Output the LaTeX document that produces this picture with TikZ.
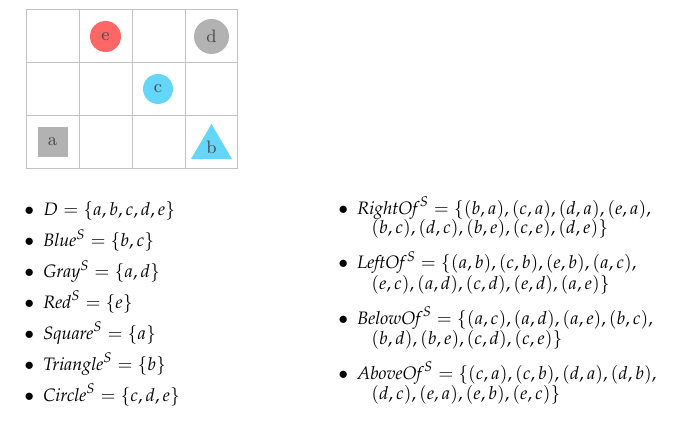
\documentclass[tikz,border=0pt]{standalone}
\usepackage{amsmath}
\usepackage{mathpazo}
\usetikzlibrary{positioning}
\definecolor{tilered}{RGB}{255,102,102}
\definecolor{tileblue}{RGB}{99,214,250}
\definecolor{tilegray}{RGB}{178,178,178}
\definecolor{gridgray}{RGB}{195,195,195}
\definecolor{lettergray}{RGB}{75,75,75}

\begin{document}
\begin{tikzpicture}[x=0.5pt,y=-0.5pt,font=\fontsize{9}{11}\selectfont,
  tile/.style={inner sep=0pt,text=lettergray},
  line/.style={anchor=base west,inner sep=0pt},
  dot/.style={anchor=base west,inner sep=0pt}]
\useasboundingbox (0,0) rectangle (674,427);

% grid of the scene
\draw [gridgray] (26,9) rectangle (237,168);
\draw [gridgray] (79,9) -- (79,168);
\draw [gridgray] (132,9) -- (132,168);
\draw [gridgray] (185,9) -- (185,168);
\draw [gridgray] (26,62) -- (237,62);
\draw [gridgray] (26,115) -- (237,115);

% objects
\node [tile,circle,fill=tilered,minimum size=15.5pt] (e) at (105.5,36.5) {e};
\node [tile,circle,fill=tilegray,minimum size=17.5pt] (d) at (211.5,36.5) {d};
\node [tile,circle,fill=tileblue,minimum size=15pt] (c) at (158,89) {c};
\node [tile,rectangle,fill=tilegray,minimum size=15pt] (a) at (52.5,142) {a};
\fill [tileblue] (191,159) -- (211.5,124) -- (232,159) -- cycle;
\node [tile] (b) at (211.5,147) {b};

% left column
\node [dot] (dot1) at (24,216) {$\bullet$};
\node [line] (dom) at (43,216) {$D = \{a,b,c,d,e\}$};
\node [dot] (dot2) at (24,247) {$\bullet$};
\node [line] (blue) at (43,247) {$\mathit{Blue}^S = \{b,c\}$};
\node [dot] (dot3) at (24,278) {$\bullet$};
\node [line] (gray) at (43,278) {$\mathit{Gray}^S = \{a,d\}$};
\node [dot] (dot4) at (24,308) {$\bullet$};
\node [line] (red) at (43,308) {$\mathit{Red}^S = \{e\}$};
\node [dot] (dot5) at (24,339) {$\bullet$};
\node [line] (square) at (43,339) {$\mathit{Square}^S = \{a\}$};
\node [dot] (dot6) at (24,370) {$\bullet$};
\node [line] (triangle) at (43,370) {$\mathit{Triangle}^S = \{b\}$};
\node [dot] (dot7) at (24,401) {$\bullet$};
\node [line] (circ) at (43,401) {$\mathit{Circle}^S = \{c,d,e\}$};

% right column
\node [dot] (dot8) at (338,214) {$\bullet$};
\node [line] (rightof) at (357,214) {$\mathit{RightOf}^S = \{(b,a),(c,a),(d,a),(e,a),$};
\node [line] (rightof2) at (371,234) {$(b,c),(d,c),(b,e),(c,e),(d,e)\}$};
\node [dot] (dot9) at (338,269) {$\bullet$};
\node [line] (leftof) at (357,269) {$\mathit{LeftOf}^S = \{(a,b),(c,b),(e,b),(a,c),$};
\node [line] (leftof2) at (371,289) {$(e,c),(a,d),(c,d),(e,d),(a,e)\}$};
\node [dot] (dot10) at (338,324) {$\bullet$};
\node [line] (belowof) at (357,324) {$\mathit{BelowOf}^S = \{(a,c),(a,d),(a,e),(b,c),$};
\node [line] (belowof2) at (371,344) {$(b,d),(b,e),(c,d),(c,e)\}$};
\node [dot] (dot11) at (338,379) {$\bullet$};
\node [line] (aboveof) at (357,379) {$\mathit{AboveOf}^S = \{(c,a),(c,b),(d,a),(d,b),$};
\node [line] (aboveof2) at (371,399) {$(d,c),(e,a),(e,b),(e,c)\}$};
\end{tikzpicture}
\end{document}
